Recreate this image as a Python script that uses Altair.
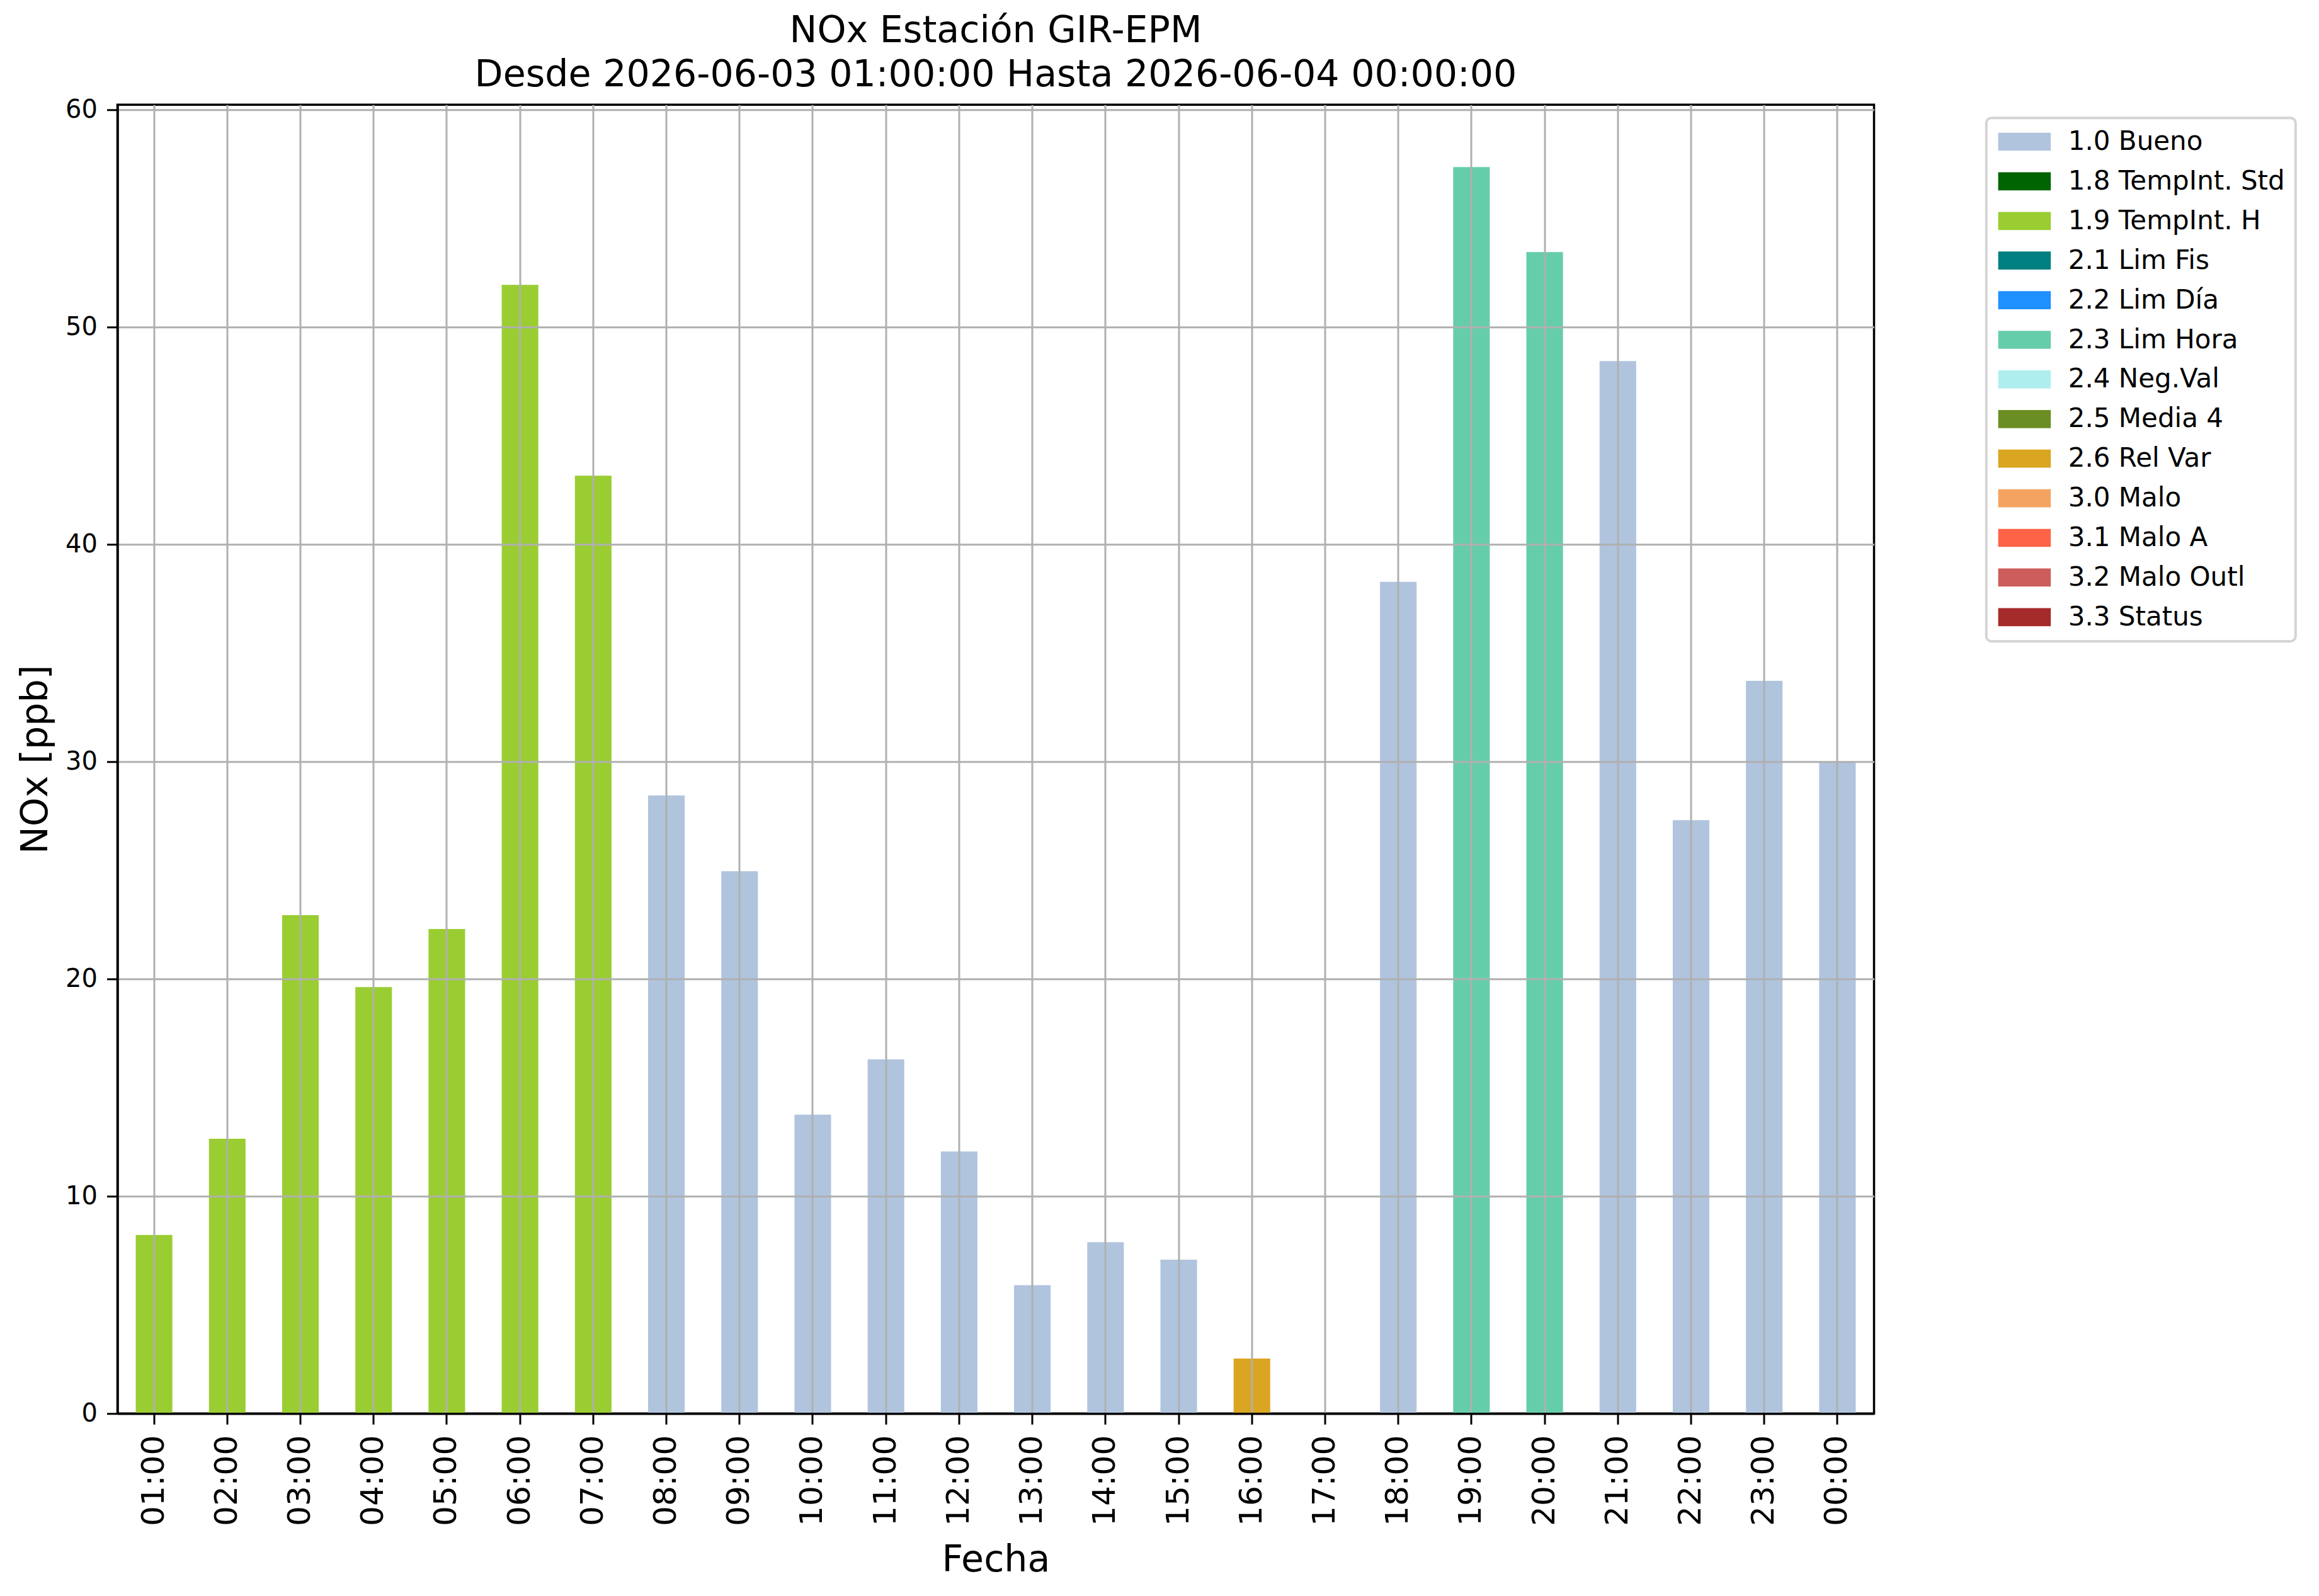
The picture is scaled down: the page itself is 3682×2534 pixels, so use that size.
import altair as alt
import pandas as pd

hours = ["01:00", "02:00", "03:00", "04:00", "05:00", "06:00", "07:00", "08:00",
         "09:00", "10:00", "11:00", "12:00", "13:00", "14:00", "15:00", "16:00",
         "17:00", "18:00", "19:00", "20:00", "21:00", "22:00", "23:00", "00:00"]
nox = [8.22, 12.65, 22.94, 19.63, 22.30, 51.95, 43.17, 28.45,
       24.96, 13.76, 16.30, 12.06, 5.91, 7.89, 7.08, 2.53,
       None, 38.28, 57.37, 53.46, 48.44, 27.31, 33.72, 30.00]
flags = ["1.9 TempInt. H", "1.9 TempInt. H", "1.9 TempInt. H", "1.9 TempInt. H",
         "1.9 TempInt. H", "1.9 TempInt. H", "1.9 TempInt. H", "1.0 Bueno",
         "1.0 Bueno", "1.0 Bueno", "1.0 Bueno", "1.0 Bueno",
         "1.0 Bueno", "1.0 Bueno", "1.0 Bueno", "2.6 Rel Var",
         "1.0 Bueno", "1.0 Bueno", "2.3 Lim Hora", "2.3 Lim Hora",
         "1.0 Bueno", "1.0 Bueno", "1.0 Bueno", "1.0 Bueno"]
categories = ["1.0 Bueno", "1.8 TempInt. Std", "1.9 TempInt. H", "2.1 Lim Fis",
              "2.2 Lim Día", "2.3 Lim Hora", "2.4 Neg.Val", "2.5 Media 4",
              "2.6 Rel Var", "3.0 Malo", "3.1 Malo A", "3.2 Malo Outl", "3.3 Status"]
colors = ["#B0C4DE", "#006400", "#9ACD32", "#008080", "#1E90FF", "#66CDAA",
          "#AFEEEE", "#6B8E23", "#DAA520", "#F4A460", "#FF6347", "#CD5C5C", "#A52A2A"]
y_ticks = [0, 10, 20, 30, 40, 50, 60]
title_lines = ["NOx Estación GIR-EPM",
               "Desde 2026-06-03 01:00:00 Hasta 2026-06-04 00:00:00"]

df = pd.DataFrame({"Fecha": hours, "NOx": nox, "Flag": flags})

FONT = "DejaVu Sans"
W, H = 2789, 2078

chart = alt.Chart(df).mark_bar(strokeWidth=0).encode(
    x=alt.X("Fecha:N", sort=hours,
            scale=alt.Scale(domain=hours, paddingInner=0.5, paddingOuter=0.25),
            axis=alt.Axis(title="Fecha", labelAngle=270, grid=True, zindex=1,
                          labelFontSize=50, labelFont=FONT, labelColor="black",
                          labelPadding=17, tickSize=17, tickWidth=3, tickColor="black",
                          domainColor="black", domainWidth=3.5,
                          gridColor="#b0b0b0", gridWidth=3,
                          titleFontSize=58.6, titleFont=FONT, titleFontWeight="normal",
                          titleColor="black", titlePadding=26)),
    y=alt.Y("NOx:Q",
            scale=alt.Scale(domain=[0, 60.24], nice=False, zero=True),
            axis=alt.Axis(title="NOx [ppb]", values=y_ticks, grid=True, zindex=1,
                          labelFontSize=40, labelFont=FONT, labelColor="black",
                          labelPadding=15, tickSize=17, tickWidth=3, tickColor="black",
                          domainColor="black", domainWidth=3.5,
                          gridColor="#b0b0b0", gridWidth=3,
                          titleFontSize=58.6, titleFont=FONT, titleFontWeight="normal",
                          titleColor="black", titlePadding=17)),
    color=alt.Color("Flag:N",
                    scale=alt.Scale(domain=categories, range=colors),
                    legend=alt.Legend(title=None, orient="none", legendX=2967.3, legendY=21,
                                      symbolType="M-2.91,-1L2.91,-1L2.91,1L-2.91,1Z",
                                      symbolSize=823.7, symbolStrokeWidth=0,
                                      symbolOffset=22.9, labelOffset=48.3,
                                      labelFontSize=42, labelFont=FONT, labelColor="black",
                                      labelLimit=800, rowPadding=20.9, padding=16.7,
                                      strokeColor="#d4d4d4",
                                      fillColor="white", cornerRadius=8,
                                      symbolOpacity=1)),
).properties(
    width=W, height=H,
    title=alt.TitleParams(text=title_lines, anchor="middle", fontSize=58.6, font=FONT,
                          fontWeight="normal", lineHeight=70, offset=5, color="black"),
    autosize=alt.AutoSizeParams(type="none"),
    padding={"left": 178.5, "top": 158.3, "right": 698.5, "bottom": 289.7},
).configure_view(stroke="black", strokeWidth=3.5).configure_legend(strokeWidth=4)

chart.save("out.html", embed_options={"renderer": "svg", "actions": False})
